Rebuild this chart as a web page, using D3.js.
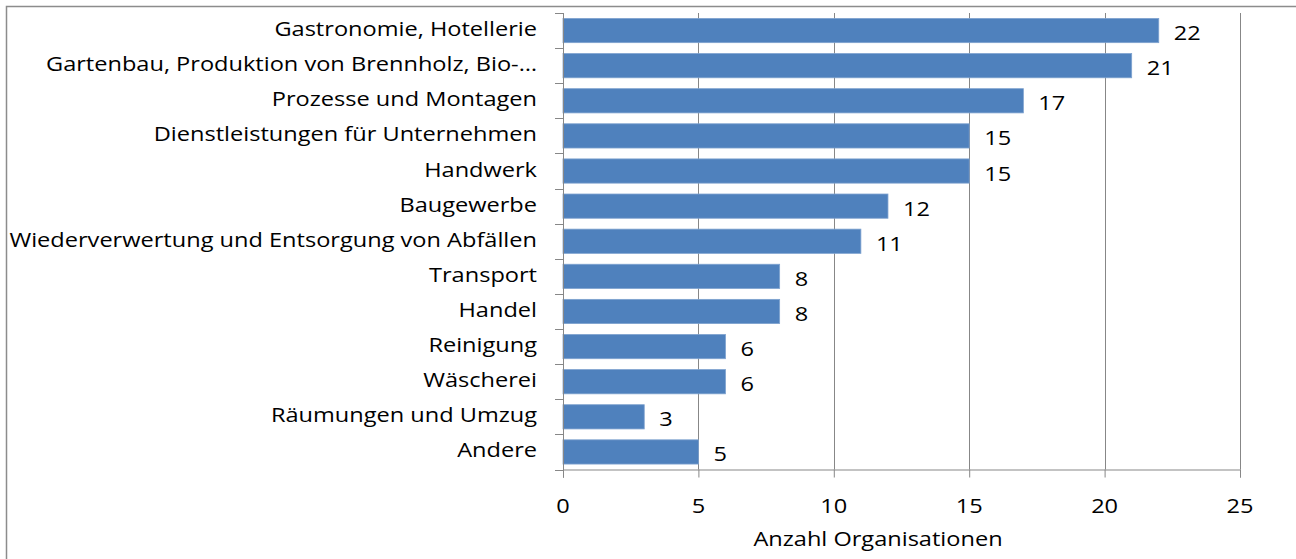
<!DOCTYPE html>
<html>
<head>
<meta charset="utf-8">
<script src="https://cdn.jsdelivr.net/npm/d3@7"></script>
<style>
  html, body { margin: 0; padding: 0; background: #fff; }
  svg { display: block; }
  text { font-family: "Open Sans", "DejaVu Sans", sans-serif; fill: #000; }
</style>
</head>
<body>
<svg id="chart" width="1296" height="559"></svg>
<script>
const categories = [
  "Gastronomie, Hotellerie",
  "Gartenbau, Produktion von Brennholz, Bio-…",
  "Prozesse und Montagen",
  "Dienstleistungen für Unternehmen",
  "Handwerk",
  "Baugewerbe",
  "Wiederverwertung und Entsorgung von Abfällen",
  "Transport",
  "Handel",
  "Reinigung",
  "Wäscherei",
  "Räumungen und Umzug",
  "Andere"
];
const values = [22, 21, 17, 15, 15, 12, 11, 8, 8, 6, 6, 3, 5];
const xTicks = [0, 5, 10, 15, 20, 25];
const xTitle = "Anzahl Organisationen";

const svg = d3.select("#chart");
const W = 1296, H = 559;
const pLeft = 563, pRight = 1240, pTop = 13, pBottom = 469.5;
const FS = 20.5, SX = 1.15;

// outer frame
svg.append("rect")
  .attr("x", 6.5).attr("y", 6.5)
  .attr("width", W + 10).attr("height", H + 10)
  .attr("fill", "#fff").attr("stroke", "#8c8c8c").attr("stroke-width", 1.5);

const x = d3.scaleLinear().domain([0, 25]).range([pLeft, pRight]);
const y = d3.scaleBand().domain(categories).range([pTop, pBottom]).paddingInner(0.31).paddingOuter(0.155);
const yc = d => y(d) + y.bandwidth() / 2;

// gridlines
svg.append("g").selectAll("line").data(xTicks.filter(d => d > 0)).join("line")
  .attr("x1", d => Math.round(x(d)) + 0.5).attr("x2", d => Math.round(x(d)) + 0.5)
  .attr("y1", pTop).attr("y2", pBottom)
  .attr("stroke", "#878787").attr("stroke-width", 1);

// bars
svg.append("g").selectAll("rect").data(categories).join("rect")
  .attr("x", pLeft)
  .attr("y", d => y(d))
  .attr("width", (d, i) => x(values[i]) - pLeft)
  .attr("height", y.bandwidth())
  .attr("fill", "#4F81BD")
  .attr("stroke", "#7EA2CF").attr("stroke-width", 0.8);

// value labels
svg.append("g").selectAll("text").data(categories).join("text")
  .attr("transform", (d, i) => `translate(${x(values[i]) + 15},${yc(d) + 9.5}) scale(${SX},1)`)
  .attr("font-size", FS)
  .text((d, i) => values[i]);

// x axis
const xAxis = d3.axisBottom(x).tickValues(xTicks).tickSize(8).tickFormat("");
const gx = svg.append("g").attr("transform", `translate(0,${pBottom})`).call(xAxis);
gx.select(".domain").attr("stroke", "#878787");
gx.selectAll(".tick line").attr("stroke", "#878787");
svg.append("g").selectAll("text").data(xTicks).join("text")
  .attr("transform", d => `translate(${x(d)},513) scale(${SX},1)`)
  .attr("text-anchor", "middle")
  .attr("font-size", FS)
  .text(d => d);

// y axis (category)
const outerPositions = d3.range(categories.length + 1).map(i => pTop + i * (pBottom - pTop) / categories.length);
svg.append("line")
  .attr("x1", pLeft + 0.5).attr("x2", pLeft + 0.5)
  .attr("y1", pTop).attr("y2", pBottom + 8)
  .attr("stroke", "#878787");
svg.append("g").selectAll("line").data(outerPositions).join("line")
  .attr("x1", pLeft - 8).attr("x2", pLeft)
  .attr("y1", d => Math.round(d) + 0.5).attr("y2", d => Math.round(d) + 0.5)
  .attr("stroke", "#878787");

svg.append("g").selectAll("text").data(categories).join("text")
  .attr("transform", d => `translate(537,${yc(d) + 5.5}) scale(${SX},1)`)
  .attr("text-anchor", "end")
  .attr("font-size", FS)
  .text(d => d);

// axis title
svg.append("text")
  .attr("transform", `translate(878,546) scale(${SX},1)`)
  .attr("text-anchor", "middle")
  .attr("font-size", FS)
  .text(xTitle);
</script>
</body>
</html>
